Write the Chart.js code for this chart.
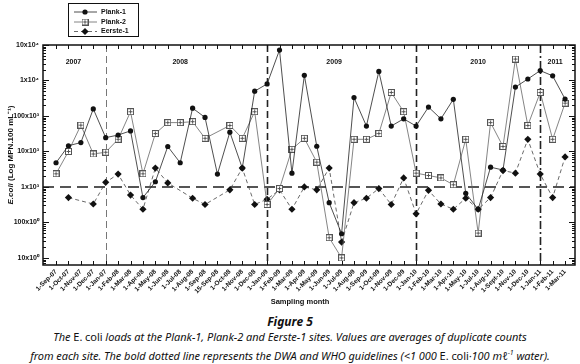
<!DOCTYPE html>
<html>
<head>
<meta charset="utf-8">
<script src="https://cdn.jsdelivr.net/npm/chart.js@4"></script>
<style>
  html, body { margin: 0; padding: 0; background: #fff; }
  #wrap { width: 580px; height: 364px; position: relative; }
  #chartBox { width: 580px; height: 310px; position: relative; }
  .caption { font-family: 'Noto Sans', sans-serif; font-style: italic; color: #111; text-align: center; }
  .fig { font-weight: bold; font-size: 12px; line-height: 15px; margin-top: 4px; }
  .txt { font-size: 11px; line-height: 16px; letter-spacing: -0.05px; }
  .up { font-style: normal; }
</style>
</head>
<body>
<div id="wrap">
  <div id="chartBox"><canvas id="ecoliChart"></canvas></div>
  <div class="caption fig">Figure 5</div>
  <div class="caption txt">The <span class="up">E. coli</span> loads at the Plank-1, Plank-2 and Eerste-1 sites. Values are averages of duplicate counts<br>from each site. The bold dotted line represents the DWA and WHO guidelines (&lt;1 000 <span class="up">E. coli</span>·100 mℓ<sup style="font-size:7px">-1</sup> water).</div>
</div>
<script>
const xLabels = [
  '1-Sep-07', '1-Oct-07', '1-Nov-07', '1-Dec-07', '1-Jan-07', '1-Feb-08', '1-Mar-08', '1-Apr-08',
  '1-May-08', '1-Jun-08', '1-Jul-08', '1-Aug-08', '1-Sep-08', '15-Sep-08', '1-Oct-08', '1-Nov-08',
  '1-Dec-08', '1-Jan-09', '1-Feb-09', '1-Mar-09', '1-Apr-09', '1-May-09', '1-Jun-09', '1-Jul-09',
  '1-Aug-09', '1-Sep-09', '1-Oct-09', '1-Nov-09', '1-Dec-09', '1-Jan-10', '1-Feb-10', '1-Mar-10',
  '1-Apr-10', '1-May-10', '1-Jul-10', '1-Aug-10', '1-Sept-10', '1-Nov-10', '1-Dec-10', '1-Jan-11',
  '1-Feb-11', '1-Mar-11',
];

const plank1 = [
  4800, 14500, 17800, 158000, 24500, 29000, 38000, 500,
  1400, 13800, 4800, 166000, 91000, 2300, 35000, 3400,
  500000, 800000, 7200000, 2450, 1400000, 14000, 360, 48,
  330000, 52000, 1800000, 52000, 83000, 52000, 178000, 83000,
  295000, 660, 235, 3600, 3000, 650000, 1100000, 1900000,
  1350000, 300000,
];

const plank2 = [
  2350, 10000, 55000, 8500, 9500, 22000, 132000, 2350,
  32000, 65000, 65000, 69000, 23500, null, 54000, 23500,
  132000, 320, 900, 11500, 23500, 5000, 37, 10,
  22000, 22000, 32000, 460000, 132000, 2450, 2100, 1800,
  1150, 22000, 50, 65000, 13800, 4000000, 54000, 460000,
  22000, 230000,
];

const eerste1 = [
  null, 500, null, 330, 1350, 2300, 590, 235,
  3400, 1300, null, 480, 320, null, 830, 3400,
  320, 450, 830, 235, 1000, 830, 3400, 28,
  360, 480, 900, 320, 1800, 175, 800, 330,
  235, 480, 235, 500, 2900, 2450, 22000, 2300,
  500, 7000,
];

const yTickValues = [10, 100, 1e3, 1e4, 1e5, 1e6, 1e7];
const yTickLabels = ['10x10⁰', '100x10⁰', '1x10³', '10x10³', '100x10³', '1x10⁴', '10x10⁴'];

const yearLabels = ['2007', '2008', '2009', '2010', '2011'];
const yearAt = [1.4, 10, 22.4, 34, 40.2];
const yearBreaks = [4, 17, 29, 39];
const guideline = 1000;

const FONT = '"Liberation Sans", Arial, sans-serif';

function toPoints(values) {
  return values.map((v, i) => ({ x: i, y: v }));
}

function boxCrossMarker() {
  const c = document.createElement('canvas');
  c.width = 7;
  c.height = 7;
  const g = c.getContext('2d');
  g.fillStyle = '#fff';
  g.fillRect(0, 0, 7, 7);
  g.strokeStyle = '#555';
  g.lineWidth = 1;
  g.strokeRect(0.5, 0.5, 6, 6);
  g.beginPath();
  g.moveTo(3.5, 1.5); g.lineTo(3.5, 5.5);
  g.moveTo(1.5, 3.5); g.lineTo(5.5, 3.5);
  g.stroke();
  return c;
}
const squareMarker = boxCrossMarker();

const overlay = {
  id: 'overlay',
  beforeDatasetsDraw(chart) {
    const { ctx, chartArea: a, scales: { x, y } } = chart;
    ctx.save();
    // guideline
    const gy = y.getPixelForValue(guideline);
    ctx.strokeStyle = '#555';
    ctx.lineWidth = 2;
    ctx.setLineDash([11, 6]);
    ctx.beginPath();
    ctx.moveTo(a.left, gy);
    ctx.lineTo(a.right, gy);
    ctx.stroke();
    // year separators
    yearBreaks.forEach((idx, k) => {
      const px = Math.round(x.getPixelForValue(idx)) + 0.5;
      ctx.strokeStyle = k === 0 ? '#777' : '#222';
      ctx.lineWidth = k === 0 ? 1 : 1.6;
      ctx.setLineDash(k === 3 ? [8, 3, 2, 3] : [7, 4]);
      ctx.beginPath();
      ctx.moveTo(px, a.top);
      ctx.lineTo(px, a.bottom);
      ctx.stroke();
    });
    ctx.restore();
  },
  afterDraw(chart) {
    const { ctx, chartArea: a, scales: { x, y } } = chart;
    ctx.save();
    ctx.setLineDash([]);
    ctx.strokeStyle = '#111';
    ctx.lineWidth = 1.5;
    ctx.strokeRect(a.left, a.top, a.right - a.left, a.bottom - a.top);

    // inward ticks
    ctx.lineWidth = 1;
    ctx.beginPath();
    xLabels.forEach((_, i) => {
      const px = Math.round(x.getPixelForValue(i)) + 0.5;
      ctx.moveTo(px, a.bottom); ctx.lineTo(px, a.bottom - 4);
      ctx.moveTo(px, a.top); ctx.lineTo(px, a.top + 4);
    });
    for (let d = 0; d <= 7; d++) {
      for (let m = 1; m <= 9; m++) {
        const v = m * Math.pow(10, d);
        if (v < y.min || v > y.max) continue;
        const py = Math.round(y.getPixelForValue(v)) + 0.5;
        const len = m === 1 ? 6 : 3;
        ctx.moveTo(a.left, py); ctx.lineTo(a.left + len, py);
        ctx.moveTo(a.right, py); ctx.lineTo(a.right - len, py);
      }
    }
    ctx.stroke();

    // year labels
    ctx.fillStyle = '#111';
    ctx.font = `bold 7px ${FONT}`;
    ctx.textAlign = 'center';
    ctx.textBaseline = 'middle';
    yearLabels.forEach((t, i) => {
      ctx.fillText(t, x.getPixelForValue(yearAt[i]), a.top + 17);
    });

    // x title
    ctx.font = `bold 7.5px ${FONT}`;
    ctx.fillText('Sampling month', 300, 302);

    // y title
    ctx.translate(11, (a.top + a.bottom) / 2);
    ctx.rotate(-Math.PI / 2);
    const t1 = 'E.coli';
    const t2 = ' (Log MPN.100 mL⁻¹)';
    ctx.font = `bold italic 8px ${FONT}`;
    const w1 = ctx.measureText(t1).width;
    ctx.font = `bold 8px ${FONT}`;
    const w2 = ctx.measureText(t2).width;
    ctx.textAlign = 'left';
    ctx.font = `bold italic 8px ${FONT}`;
    ctx.fillText(t1, -(w1 + w2) / 2, 0);
    ctx.font = `bold 8px ${FONT}`;
    ctx.fillText(t2, -(w1 + w2) / 2 + w1, 0);
    ctx.restore();

    // legend
    ctx.save();
    ctx.strokeStyle = '#111';
    ctx.lineWidth = 1;
    ctx.strokeRect(68.5, 3.5, 70, 33);
    const rows = [12, 22, 31.5];
    chart.data.datasets.forEach((ds, i) => {
      const ry = rows[i];
      ctx.strokeStyle = ds.borderColor;
      ctx.lineWidth = 0.8;
      ctx.setLineDash(ds.borderDash || []);
      ctx.beginPath();
      ctx.moveTo(74, ry); ctx.lineTo(97, ry);
      ctx.stroke();
      ctx.setLineDash([]);
      if (ds.pointStyle === 'circle') {
        ctx.fillStyle = '#111';
        ctx.beginPath(); ctx.arc(85, ry, 2.6, 0, Math.PI * 2); ctx.fill();
      } else if (ds.pointStyle === 'rectRot') {
        ctx.fillStyle = '#111';
        ctx.beginPath();
        ctx.moveTo(85, ry - 3.6); ctx.lineTo(88.6, ry); ctx.lineTo(85, ry + 3.6); ctx.lineTo(81.4, ry);
        ctx.closePath(); ctx.fill();
      } else {
        ctx.drawImage(squareMarker, 81.5, ry - 3.5);
      }
      ctx.fillStyle = '#111';
      ctx.font = `bold 7px ${FONT}`;
      ctx.textAlign = 'left';
      ctx.textBaseline = 'middle';
      ctx.fillText(ds.label, 101, ry);
    });
    ctx.restore();
  },
};

new Chart(document.getElementById('ecoliChart'), {
  type: 'line',
  data: {
    datasets: [
      {
        label: 'Plank-1',
        data: toPoints(plank1),
        borderColor: '#222',
        borderWidth: 0.8,
        pointStyle: 'circle',
        pointRadius: 2.6,
        pointBackgroundColor: '#111',
        pointBorderColor: '#111',
        pointBorderWidth: 0,
        spanGaps: true,
      },
      {
        label: 'Plank-2',
        data: toPoints(plank2),
        borderColor: '#666',
        borderWidth: 0.8,
        pointStyle: squareMarker,
        spanGaps: true,
      },
      {
        label: 'Eerste-1',
        data: toPoints(eerste1),
        borderColor: '#444',
        borderWidth: 0.8,
        borderDash: [4, 3],
        pointStyle: 'rectRot',
        pointRadius: 3.6,
        pointBackgroundColor: '#111',
        pointBorderColor: '#111',
        pointBorderWidth: 0,
        spanGaps: true,
      },
    ],
  },
  options: {
    responsive: true,
    maintainAspectRatio: false,
    animation: false,
    layout: { padding: { left: 0, right: 5, top: 45, bottom: 0 } },
    plugins: { legend: { display: false }, tooltip: { enabled: false } },
    scales: {
      x: {
        type: 'linear',
        min: -1.05,
        max: 41.8,
        afterBuildTicks: (scale) => { scale.ticks = xLabels.map((_, i) => ({ value: i })); },
        afterFit: (scale) => { scale.height = 45; },
        grid: { display: false, drawTicks: false },
        border: { display: false },
        ticks: {
          autoSkip: false,
          minRotation: 45,
          maxRotation: 45,
          padding: 3,
          color: '#111',
          font: { family: FONT, size: 6.5, weight: 'bold' },
          callback: (v) => xLabels[v],
        },
      },
      y: {
        type: 'logarithmic',
        min: Math.pow(10, 0.8),
        max: 1e7,
        afterBuildTicks: (scale) => { scale.ticks = yTickValues.map((v) => ({ value: v })); },
        afterFit: (scale) => { scale.width = 43; },
        grid: { display: false, drawTicks: false },
        border: { display: false },
        ticks: {
          padding: 4,
          color: '#111',
          font: { family: FONT, size: 7, weight: 'bold' },
          callback: (v) => yTickLabels[yTickValues.indexOf(v)],
        },
      },
    },
  },
  plugins: [overlay],
});
</script>
</body>
</html>
